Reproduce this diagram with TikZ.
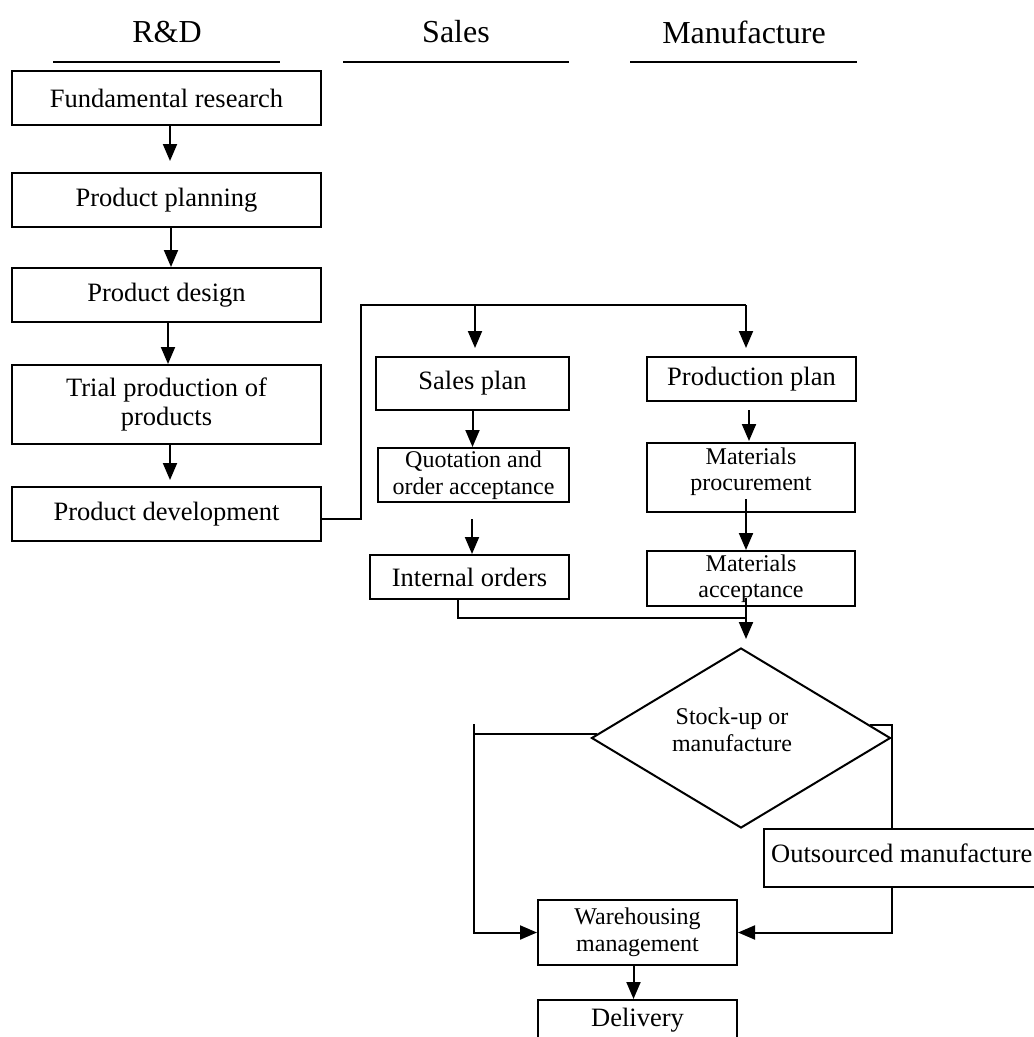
\documentclass[tikz,border=0pt]{standalone}
\usepackage{fontspec}
\setmainfont{Liberation Serif}
\usetikzlibrary{arrows.meta,shapes.geometric,calc}
\begin{document}
\begin{tikzpicture}[x=1pt,y=-1pt,
  box/.style={draw,line width=2pt,inner sep=0pt,align=center},
  big/.style={font=\fontsize{26.5}{29}\selectfont},
  small/.style={font=\fontsize{24}{26.5}\selectfont},
  head/.style={font=\fontsize{32}{36}\selectfont},
  conn/.style={line width=2pt},
  arr/.style={conn,-{Triangle[width=14pt,length=17pt]}},
  hline/.style={line width=2pt}]
\useasboundingbox (0,0) rectangle (1034,1037);
\clip (0,0) rectangle (1034,1037);

% headers
\node[head] (hrd) at (167,32) {R\&D};
\node[head] (hsales) at (456,32) {Sales};
\node[head] (hman) at (744,32) {Manufacture};
\draw[hline] (53,62) -- (280,62);
\draw[hline] (343,62) -- (569,62);
\draw[hline] (630,62) -- (857,62);

% R&D column
\node[box,big,minimum width=309pt,minimum height=54pt] (fr) at (166.5,98) {Fundamental research};
\node[box,big,minimum width=309pt,minimum height=54pt] (pp) at (166.5,200) {Product planning};
\node[box,big,minimum width=309pt,minimum height=54pt] (pd) at (166.5,295) {Product design};
\node[box,big,minimum width=309pt,minimum height=79pt] (tp) at (166.5,404.5) {Trial production of\\products};
\node[box,big,minimum width=309pt,minimum height=54pt] (pdev) at (166.5,514) {Product development};

% Sales column
\node[box,big,minimum width=193pt,minimum height=53pt] (sp) at (472.5,383.5) {Sales plan};
\node[box,small,minimum width=191pt,minimum height=54pt] (qa) at (473.5,475) {Quotation and\\order acceptance};
\node[box,big,minimum width=199pt,minimum height=44pt] (io) at (469.5,577) {Internal orders};

% Manufacture column
\node[box,big,minimum width=209pt,minimum height=44pt] (prp) at (751.5,379) {Production plan};
\node[box,minimum width=208pt,minimum height=69pt] (mp) at (751,477.5) {};
\node[small,align=center,inner sep=0pt] (mpt) at (751,471.5) {Materials\\procurement};
\node[box,small,minimum width=208pt,minimum height=55pt] (ma) at (751,578.5) {Materials\\acceptance};

% decision
\node[diamond,draw,line width=2pt,inner sep=0pt,minimum width=299pt,minimum height=180pt] (dia) at (741,738) {};
\node[small,align=center,inner sep=0pt] (diat) at (732,730) {Stock-up or\\manufacture};

\node[box,minimum width=276pt,minimum height=58pt] (os) at (902,858) {};
\node[big,anchor=west,inner sep=0pt] (ost) at (771,853) {Outsourced manufacture};

\node[box,small,minimum width=199pt,minimum height=65pt] (wh) at (637.5,932.5) {Warehousing\\management};
\node[box,minimum width=199pt,minimum height=60pt] (dl) at (637.5,1030) {};
\node[big,inner sep=0pt] (dlt) at (637.5,1020) {Delivery};

% connectors R&D
\draw[arr,shorten >=11pt] ([xshift=3.5pt]fr.south) -- ([xshift=3.5pt]pp.north);
\draw[arr] ([xshift=4.5pt]pp.south) -- ([xshift=4.5pt]pd.north);
\draw[arr] ([xshift=1.5pt]pd.south) -- ([xshift=1.5pt]tp.north);
\draw[arr,shorten >=6pt] ([xshift=3.5pt]tp.south) -- ([xshift=3.5pt]pdev.north);

% split to sales and manufacture
\coordinate (j1) at (361,305);
\coordinate (j2) at (746,305);
\coordinate (j3) at (475,305);
\draw[conn] ([yshift=-5pt]pdev.east) -| (j1) -- (j2);
\draw[arr,shorten >=8pt] (j2) -- (j2 |- prp.north);
\draw[arr,shorten >=8pt] (j3) -- (j3 |- sp.north);

% sales chain
\draw[arr] (sp.south) -- (sp.south |- qa.north);
\draw[arr] ([xshift=-1.5pt,yshift=-16pt]qa.south) -- ([xshift=-1.5pt]qa.south |- io.north);

% manufacture chain
\draw[arr,shorten >=1pt] ([xshift=-2.5pt,yshift=-8pt]prp.south) -- ([xshift=-2.5pt]prp.south |- mp.north);
\draw[arr] ([xshift=-5pt,yshift=14pt]mp.south) -- ([xshift=-5pt]ma.north);
\coordinate (j4) at (746,618);
\draw[arr] ([xshift=-5pt,yshift=9pt]ma.south) -- ([xshift=5pt,yshift=8pt]dia.north);
\draw[conn] ([xshift=-11.5pt]io.south) |- (j4);

% decision branches
\coordinate (l1) at ($(dia.west)!0.044!(dia.north)$);
\coordinate (j6) at (474,724);
\draw[conn] (l1) -- (l1 -| j6);
\draw[arr] (j6) |- (wh.west);
\coordinate (r1) at ($(dia.east)!0.144!(dia.north)$);
\draw[conn] (r1) -- (r1 -| dia.east) -- (dia.east |- os.north);
\draw[arr] (os.south -| dia.east) |- (wh.east);
\draw[arr] ([xshift=-4pt]wh.south) -- ([xshift=-4pt]dl.north);
\end{tikzpicture}
\end{document}
